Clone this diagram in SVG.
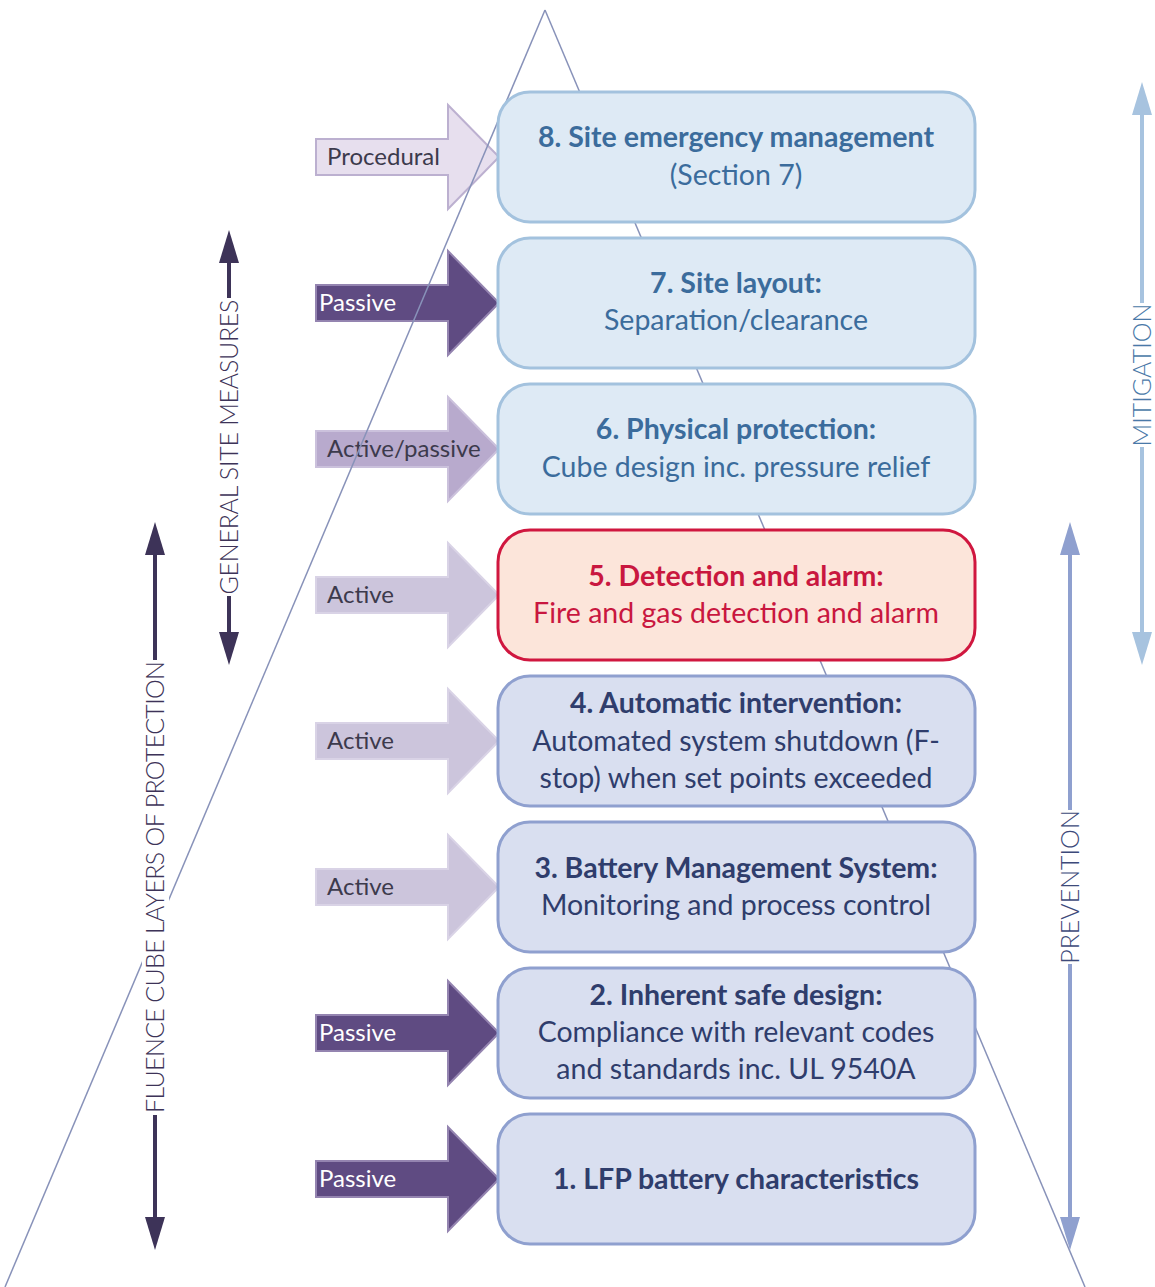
<svg xmlns="http://www.w3.org/2000/svg" width="1155" height="1287" viewBox="0 0 1155 1287">
  <style>
    .box-blue { fill: #deeaf5; stroke: #a3c2de; stroke-width: 3; }
    .box-red { fill: #fce5da; stroke: #d0173f; stroke-width: 3; }
    .box-lav { fill: #d9dff0; stroke: #8fa0cf; stroke-width: 3; }
    .t { font-family: Lato, "Liberation Sans", sans-serif; font-size: 28.5px; text-anchor: middle; }
    .b { font-weight: bold; }
    .c-blue { fill: #3b6c9c; }
    .c-red { fill: #c9173f; }
    .c-lav { fill: #2f3d6c; }
    .arr-proc { fill: #e7dfee; stroke: #bcb0d0; stroke-width: 2; }
    .arr-pass { fill: #5f4b82; stroke: #9484b0; stroke-width: 2; }
    .arr-ap { fill: #b8aacd; stroke: #cbc1dc; stroke-width: 2; }
    .arr-act { fill: #ccc5dc; stroke: #d9d3e6; stroke-width: 2; }
    .lbl { font-family: Lato, "Liberation Sans", sans-serif; font-size: 24px; fill: #3c3a4c; }
    .lbl-w { fill: #ffffff; }
    .tri { stroke: #8892b9; stroke-width: 1.5; fill: none; }
    .vt { font-family: Lato, "Liberation Sans", sans-serif; font-weight: 300; font-size: 25px; text-anchor: middle; }
  </style>
  <defs>
    <path id="blockArrow" d="M0,-18 H132 V-52 L183,0 L132,52 V18 H0 Z"/>
  </defs>

  <!-- block arrows into each layer -->
  <g id="arrows">
    <g id="arrow-8"><use href="#blockArrow" class="arr-proc" transform="translate(316,157)"/><text class="lbl" x="327" y="165">Procedural</text></g>
    <g id="arrow-7"><use href="#blockArrow" class="arr-pass" transform="translate(316,303)"/><text class="lbl lbl-w" x="319" y="311">Passive</text></g>
    <g id="arrow-6"><use href="#blockArrow" class="arr-ap" transform="translate(316,449)"/><text class="lbl" x="327" y="457">Active/passive</text></g>
    <g id="arrow-5"><use href="#blockArrow" class="arr-act" transform="translate(316,595)"/><text class="lbl" x="327" y="603">Active</text></g>
    <g id="arrow-4"><use href="#blockArrow" class="arr-act" transform="translate(316,741)"/><text class="lbl" x="327" y="749">Active</text></g>
    <g id="arrow-3"><use href="#blockArrow" class="arr-act" transform="translate(316,887)"/><text class="lbl" x="327" y="895">Active</text></g>
    <g id="arrow-2"><use href="#blockArrow" class="arr-pass" transform="translate(316,1033)"/><text class="lbl lbl-w" x="319" y="1041">Passive</text></g>
    <g id="arrow-1"><use href="#blockArrow" class="arr-pass" transform="translate(316,1179)"/><text class="lbl lbl-w" x="319" y="1187">Passive</text></g>
  </g>

  <!-- pyramid outline: over the block arrows, under the labels and layer boxes -->
  <g id="connectors">
    <line class="tri" x1="545" y1="10" x2="5" y2="1287"/>
    <line class="tri" x1="545" y1="10" x2="1085" y2="1287"/>
  </g>

  <!-- side arrows: two shaft pieces + two triangular heads round a rotated label -->
  <g id="side-arrows">
    <g id="general-site-measures">
      <line x1="229" y1="258" x2="229" y2="298" stroke="#3d3358" stroke-width="4"/>
      <line x1="229" y1="596" x2="229" y2="636" stroke="#3d3358" stroke-width="4"/>
      <path d="M229,230 L239,263 L219,263 Z" fill="#3d3358"/>
      <path d="M229,665 L239,632 L219,632 Z" fill="#3d3358"/>
      <text class="vt" transform="translate(238,447) rotate(-90)" fill="#3d3358" textLength="295">GENERAL SITE MEASURES</text>
    </g>
    <g id="fluence-layers">
      <line x1="155" y1="550" x2="155" y2="660" stroke="#3d3358" stroke-width="4"/>
      <line x1="155" y1="1115" x2="155" y2="1222" stroke="#3d3358" stroke-width="4"/>
      <path d="M155,522 L165,555 L145,555 Z" fill="#3d3358"/>
      <path d="M155,1250 L165,1217 L145,1217 Z" fill="#3d3358"/>
      <rect x="142" y="661" width="27" height="453" fill="#ffffff"/>
      <text class="vt" transform="translate(164,887) rotate(-90)" fill="#3d3358" textLength="452">FLUENCE CUBE LAYERS OF PROTECTION</text>
    </g>
    <g id="mitigation">
      <line x1="1142" y1="110" x2="1142" y2="303" stroke="#a7c3df" stroke-width="4"/>
      <line x1="1142" y1="447" x2="1142" y2="637" stroke="#a7c3df" stroke-width="4"/>
      <path d="M1142,82 L1152,115 L1132,115 Z" fill="#a7c3df"/>
      <path d="M1142,665 L1152,632 L1132,632 Z" fill="#a7c3df"/>
      <text class="vt" transform="translate(1151,375) rotate(-90)" fill="#4a79a8">MITIGATION</text>
    </g>
    <g id="prevention">
      <line x1="1070" y1="550" x2="1070" y2="810" stroke="#8fa0cf" stroke-width="4"/>
      <line x1="1070" y1="964" x2="1070" y2="1222" stroke="#8fa0cf" stroke-width="4"/>
      <path d="M1070,522 L1080,555 L1060,555 Z" fill="#8fa0cf"/>
      <path d="M1070,1250 L1080,1217 L1060,1217 Z" fill="#8fa0cf"/>
      <text class="vt" transform="translate(1079,887) rotate(-90)" fill="#3d4a7a">PREVENTION</text>
    </g>
  </g>

  <!-- protection layers -->
  <g id="layer-8">
    <rect class="box-blue" x="498" y="92" width="477" height="130" rx="32"/>
    <text class="t b c-blue" x="736" y="147">8. Site emergency management</text>
    <text class="t c-blue" x="736" y="185">(Section 7)</text>
  </g>
  <g id="layer-7">
    <rect class="box-blue" x="498" y="238" width="477" height="130" rx="32"/>
    <text class="t b c-blue" x="736" y="293">7. Site layout:</text>
    <text class="t c-blue" x="736" y="330">Separation/clearance</text>
  </g>
  <g id="layer-6">
    <rect class="box-blue" x="498" y="384" width="477" height="130" rx="32"/>
    <text class="t b c-blue" x="736" y="439">6. Physical protection:</text>
    <text class="t c-blue" x="736" y="477">Cube design inc. pressure relief</text>
  </g>
  <g id="layer-5">
    <rect class="box-red" x="498" y="530" width="477" height="130" rx="32"/>
    <text class="t b c-red" x="736" y="586">5. Detection and alarm:</text>
    <text class="t c-red" x="736" y="623">Fire and gas detection and alarm</text>
  </g>
  <g id="layer-4">
    <rect class="box-lav" x="498" y="676" width="477" height="130" rx="32"/>
    <text class="t b c-lav" x="736" y="713">4. Automatic intervention:</text>
    <text class="t c-lav" x="736" y="751">Automated system shutdown (F-</text>
    <text class="t c-lav" x="736" y="788">stop) when set points exceeded</text>
  </g>
  <g id="layer-3">
    <rect class="box-lav" x="498" y="822" width="477" height="130" rx="32"/>
    <text class="t b c-lav" x="736" y="878">3. Battery Management System:</text>
    <text class="t c-lav" x="736" y="915">Monitoring and process control</text>
  </g>
  <g id="layer-2">
    <rect class="box-lav" x="498" y="968" width="477" height="130" rx="32"/>
    <text class="t b c-lav" x="736" y="1005">2. Inherent safe design:</text>
    <text class="t c-lav" x="736" y="1042">Compliance with relevant codes</text>
    <text class="t c-lav" x="736" y="1079">and standards inc. UL 9540A</text>
  </g>
  <g id="layer-1">
    <rect class="box-lav" x="498" y="1114" width="477" height="130" rx="32"/>
    <text class="t b c-lav" x="736" y="1189">1. LFP battery characteristics</text>
  </g>
</svg>
